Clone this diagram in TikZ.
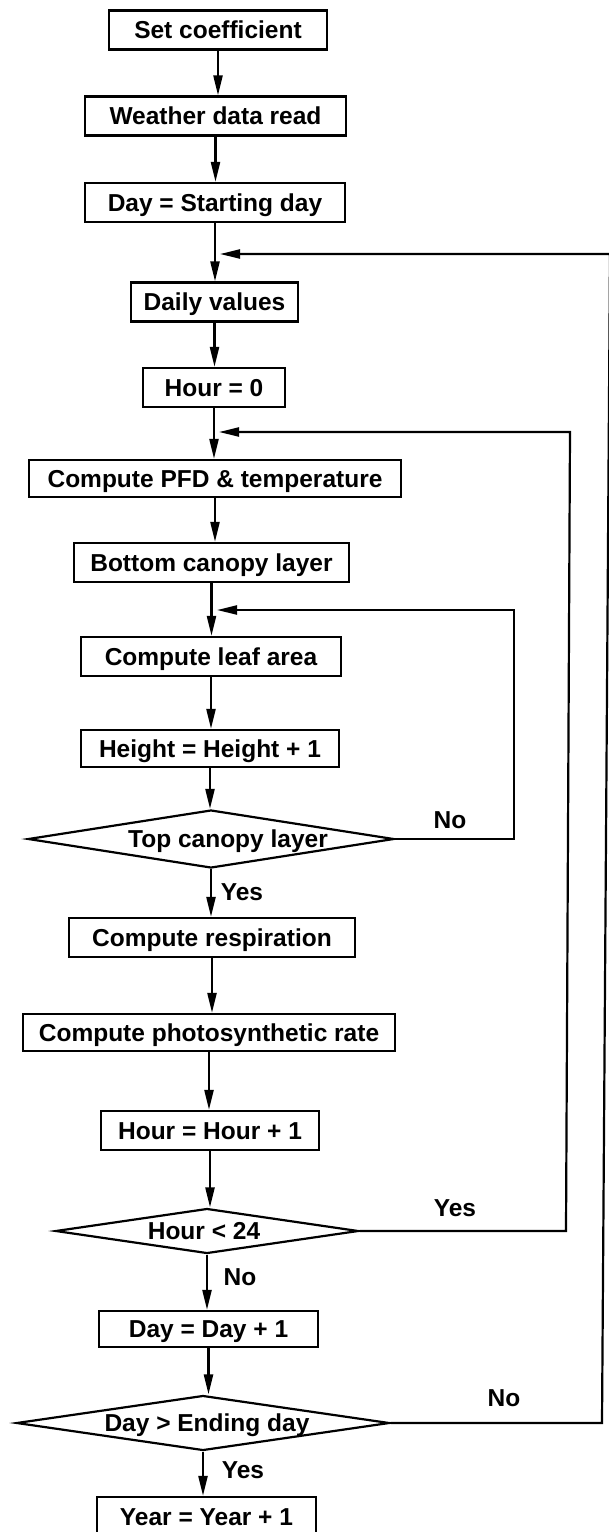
\documentclass[tikz,border=0pt]{standalone}
\usepackage{fontspec}
\setmainfont{Liberation Sans}
\usetikzlibrary{arrows.meta,shapes.geometric}
\begin{document}
\begin{tikzpicture}[x=1pt,y=-1pt,
  every node/.style={font=\fontsize{24.5}{28}\selectfont\bfseries},
  box/.style={draw,line width=2.2pt,inner sep=0pt,minimum height=39pt,text height=18pt,text depth=0.5pt},
  dia/.style={draw,diamond,line width=2.2pt,inner sep=0pt},
  lbl/.style={anchor=base,inner sep=0pt},
  conn/.style={line width=2.2pt},
  arr/.style={conn,-{Triangle[length=20pt,width=9pt]}}]
\useasboundingbox (0,0) rectangle (608,1532);
% process boxes
\node[box,minimum width=218pt] (set) at (218,30) {Set coefficient};
\node[box,minimum width=261pt] (wea) at (215.5,116) {Weather data read};
\node[box,minimum width=260pt] (dst) at (215,202.5) {Day = Starting day};
\node[box,minimum width=167pt] (dly) at (214.5,302) {Daily values};
\node[box,minimum width=142pt] (h0) at (214,387.5) {Hour = 0};
\node[box,minimum width=372pt,minimum height=37pt] (pfd) at (215,478.5) {Compute PFD \& temperature};
\node[box,minimum width=275pt] (bot) at (211.5,562.5) {Bottom canopy layer};
\node[box,minimum width=260pt] (leaf) at (211,656.5) {Compute leaf area};
\node[box,minimum width=258pt,minimum height=37pt] (hgt) at (210,748.5) {Height = Height + 1};
\node[dia,minimum width=366pt,minimum height=58pt] (d1) at (211,839) {};
\node[lbl] (d1t) at (228,847.5) {Top canopy layer};
\node[box,minimum width=286pt] (resp) at (212,937.5) {Compute respiration};
\node[box,minimum width=372pt,minimum height=37pt] (pho) at (209,1032.5) {Compute photosynthetic rate};
\node[box,minimum width=218pt] (hinc) at (210,1130.5) {Hour = Hour + 1};
\node[dia,minimum width=303pt,minimum height=45pt] (d2) at (207,1231) {};
\node[lbl] (d2t) at (204,1239.5) {Hour < 24};
\node[box,minimum width=219pt,minimum height=36pt] (dinc) at (208.5,1329) {Day = Day + 1};
\node[dia,minimum width=373pt,minimum height=55pt] (d3) at (203,1423) {};
\node[lbl] (d3t) at (207,1431.5) {Day > Ending day};
\node[box,minimum width=219pt,minimum height=40pt] (yr) at (206.5,1517) {Year = Year + 1};
% branch labels
\node[lbl] (no1) at (450,828.5) {No};
\node[lbl] (yes1) at (242,900.5) {Yes};
\node[lbl] (yes2) at (455,1216.5) {Yes};
\node[lbl] (no2) at (240,1285.5) {No};
\node[lbl] (no3) at (504,1406.5) {No};
\node[lbl] (yes3) at (243,1478.5) {Yes};
% loop coordinates
\coordinate (m1) at (220,254);
\coordinate (m2) at (219,432);
\coordinate (m3) at (217,610);
\coordinate (c1) at (514,610);
\coordinate (c2a) at (566,1231);
\coordinate (c2b) at (570,432);
\coordinate (c3a) at (602,1423);
\coordinate (c3b) at (610,254);
% main flow
\draw[arr] (set.south) -- (set.south |- wea.north);
\draw[arr] (wea.south) -- (wea.south |- dst.north);
\draw[arr] (dst.south) -- (dst.south |- dly.north);
\draw[arr] (dly.south) -- (dly.south |- h0.north);
\draw[arr] (h0.south) -- (h0.south |- pfd.north);
\draw[arr] (pfd.south) -- (pfd.south |- bot.north);
\draw[arr] (bot.south) -- (bot.south |- leaf.north);
\draw[arr] (leaf.south) -- (leaf.south |- hgt.north);
\draw[arr] (hgt.south) -- (hgt.south |- d1.north);
\draw[arr] (d1.south) -- (d1.south |- resp.north);
\draw[arr] (resp.south) -- (resp.south |- pho.north);
\draw[arr] (pho.south) -- (pho.south |- hinc.north);
\draw[arr] (hinc.south) -- (hinc.south |- d2.north);
\draw[arr] (d2.south) -- (d2.south |- dinc.north);
\draw[arr] (dinc.south) -- (dinc.south |- d3.north);
\draw[arr] (d3.south) -- (d3.south |- yr.north);
% loops
\draw[arr] (d1.east) -| (c1) -- (m3);
\draw[arr] (d2.east) -- (c2a) -- (c2b) -- (m2);
\draw[arr] (d3.east) -- (c3a) -- (c3b) -- (m1);
\end{tikzpicture}
\end{document}
